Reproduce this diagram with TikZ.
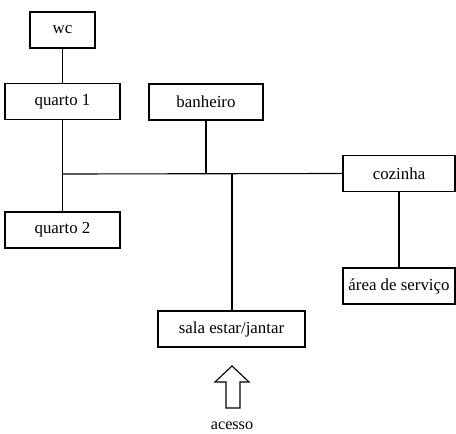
\documentclass[tikz,border=0pt]{standalone}
\usepackage{fontspec}
\setmainfont{Liberation Serif}

\begin{document}
\begin{tikzpicture}[x=0.025cm, y=-0.025cm, line width=0.8pt,
        room/.style={draw, rectangle, inner sep=0pt, minimum height=0.9cm, font=\fontsize{12}{14}\selectfont}]
        \path[use as bounding box] (0,0) rectangle (456,434);

        \node [room, minimum width=1.625cm] (wc) at (62.5, 30) {wc};
        \node [room, minimum width=2.875cm] (quarto1) at (62.5, 101.5) {quarto 1};
        \node [room, minimum width=2.85cm] (banheiro) at (206, 102) {banheiro};
        \node [room, minimum width=2.875cm] (quarto2) at (62.5, 230) {quarto 2};
        \node [room, minimum width=2.8cm] (cozinha) at (399, 173.5) {cozinha};
        \node [room, minimum width=2.8cm] (servico) at (399, 286) {área de serviço};
        \node [room, minimum width=3.675cm] (sala) at (231.5, 329) {sala estar/jantar};
        \node [font=\fontsize{11.5}{14}\selectfont] (acesso) at (232, 426) {acesso};

        \coordinate (j1) at (62.5, 174);
        \coordinate (j2) at (206, 174);
        \coordinate (j3) at (232, 174);

        \draw (wc) -- (quarto1);
        \draw (quarto1) -- (quarto2);
        \draw (j1) -- (cozinha.west);
        \draw (banheiro) -- (j2);
        \draw (j3) -- (sala.north -| j3);
        \draw (cozinha) -- (servico);

        \draw (226, 408) -- (226, 382) -- (215, 382) -- (232, 366) -- (249, 382)
              -- (240, 382) -- (240, 408) -- cycle;
      \end{tikzpicture}
\end{document}
